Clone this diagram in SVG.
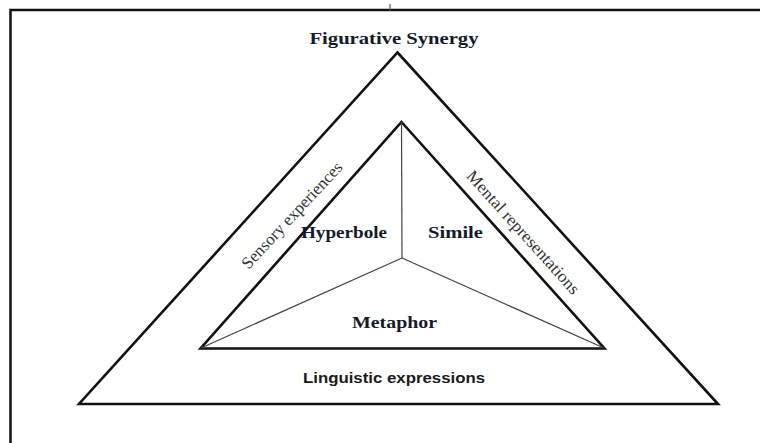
<svg xmlns="http://www.w3.org/2000/svg" width="760" height="443" viewBox="0 0 760 443">
  <style>
    .frame { fill: none; stroke: #111; stroke-width: 2.5; }
    .tri { fill: none; stroke: #111; stroke-width: 2.6; stroke-linejoin: miter; }
    .divider { fill: none; stroke: #444; stroke-width: 1.2; }
    .bold-serif { font-family: "Liberation Serif", "Times New Roman", serif; font-weight: bold; font-size: 16px; fill: #141a2a; text-anchor: middle; }
    .edge-label { font-family: "Liberation Serif", "Times New Roman", serif; font-size: 17px; fill: #333; text-anchor: middle; }
    .sans-label { font-family: "Liberation Sans", Arial, sans-serif; font-weight: bold; font-size: 15.5px; fill: #1a1a1a; text-anchor: middle; }
  </style>

  <rect width="760" height="443" fill="#fff"/>

  <!-- surrounding frame (open to the right and bottom) -->
  <g id="frame">
    <path class="frame" d="M 10.5 450 V 10 H 770"/>
    <line x1="390" y1="4" x2="390" y2="11" stroke="#555" stroke-width="1.2"/>
  </g>

  <!-- outer triangle: figurative synergy -->
  <g id="outer-triangle">
    <polygon class="tri" points="397.5,52.5 718,404 79,404"/>
    <text class="bold-serif" x="394" y="44" font-size="17" textLength="169" lengthAdjust="spacingAndGlyphs">Figurative Synergy</text>
    <text class="sans-label" x="394" y="383" textLength="182" lengthAdjust="spacingAndGlyphs">Linguistic expressions</text>
    <text class="edge-label" transform="translate(296,219) rotate(-47)">Sensory experiences</text>
    <text class="edge-label" transform="translate(519,236) rotate(48)" textLength="160" lengthAdjust="spacingAndGlyphs">Mental representations</text>
  </g>

  <!-- inner triangle split into three figures of speech -->
  <g id="inner-triangle">
    <polygon class="tri" points="401.5,122 604.5,348.5 200.5,348.5"/>
  </g>

  <g id="connectors">
    <line class="divider" x1="401.5" y1="122" x2="402" y2="258"/>
    <line class="divider" x1="402" y1="258" x2="201" y2="348"/>
    <line class="divider" x1="402" y1="258" x2="604" y2="348"/>
  </g>

  <g id="hyperbole">
    <text class="bold-serif" x="344" y="238" textLength="86" lengthAdjust="spacingAndGlyphs">Hyperbole</text>
  </g>
  <g id="simile">
    <text class="bold-serif" x="455.5" y="238" textLength="55" lengthAdjust="spacingAndGlyphs">Simile</text>
  </g>
  <g id="metaphor">
    <text class="bold-serif" x="394.5" y="328" textLength="85" lengthAdjust="spacingAndGlyphs">Metaphor</text>
  </g>
</svg>
